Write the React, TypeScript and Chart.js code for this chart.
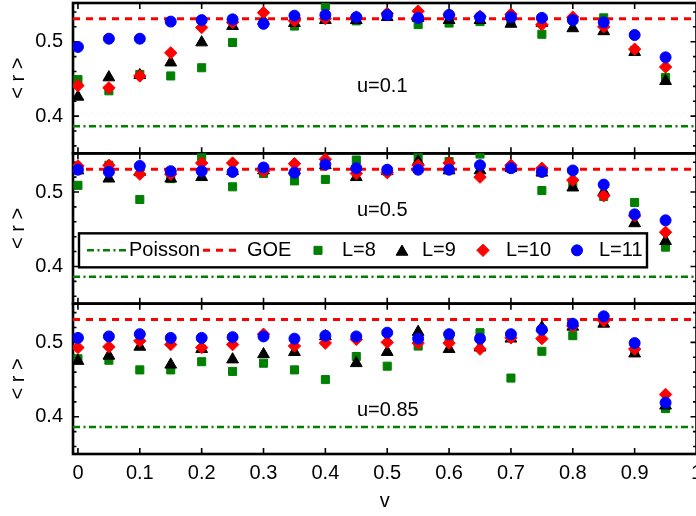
import React, { useEffect, useRef } from 'react';
import { Chart, registerables } from 'chart.js';

Chart.register(...registerables);

// ---------- data ----------
const V = [0, 0.05, 0.1, 0.15, 0.2, 0.25, 0.3, 0.35, 0.4, 0.45, 0.5, 0.55, 0.6, 0.65, 0.7, 0.75, 0.8, 0.85, 0.9, 0.95];

const U01_L8 = [0.449, 0.434, 0.456, 0.454, 0.465, 0.499, 0.525, 0.521, 0.548, 0.528, 0.534, 0.523, 0.525, 0.527, 0.529, 0.510, 0.530, 0.532, 0.488, 0.452];
const U01_L9 = [0.426, 0.452, 0.455, 0.472, 0.499, 0.521, 0.528, 0.525, 0.529, 0.529, 0.533, 0.532, 0.529, 0.529, 0.524, 0.525, 0.518, 0.514, 0.486, 0.447];
const U01_L10 = [0.441, 0.438, 0.454, 0.485, 0.519, 0.526, 0.539, 0.528, 0.531, 0.533, 0.538, 0.541, 0.536, 0.534, 0.537, 0.523, 0.533, 0.520, 0.490, 0.466];
const U01_L11 = [0.493, 0.504, 0.504, 0.527, 0.529, 0.530, 0.524, 0.535, 0.536, 0.533, 0.536, 0.532, 0.536, 0.533, 0.533, 0.532, 0.529, 0.526, 0.509, 0.479];

const U05_L8 = [0.509, 0.536, 0.490, 0.518, 0.548, 0.507, 0.525, 0.515, 0.517, 0.543, 0.528, 0.547, 0.541, 0.551, 0.532, 0.502, 0.511, 0.494, 0.486, 0.426];
const U05_L9 = [0.529, 0.518, 0.527, 0.518, 0.520, 0.528, 0.529, 0.529, 0.536, 0.520, 0.528, 0.541, 0.529, 0.529, 0.532, 0.526, 0.506, 0.500, 0.458, 0.434];
const U05_L10 = [0.535, 0.536, 0.524, 0.524, 0.539, 0.539, 0.528, 0.538, 0.544, 0.525, 0.526, 0.536, 0.539, 0.520, 0.536, 0.532, 0.516, 0.495, 0.468, 0.446];
const U05_L11 = [0.530, 0.527, 0.535, 0.528, 0.528, 0.527, 0.533, 0.526, 0.537, 0.532, 0.530, 0.530, 0.530, 0.536, 0.532, 0.527, 0.529, 0.510, 0.470, 0.462];

const U085_L8 = [0.478, 0.476, 0.463, 0.463, 0.474, 0.461, 0.472, 0.463, 0.450, 0.481, 0.468, 0.495, 0.502, 0.513, 0.452, 0.488, 0.509, 0.530, 0.490, 0.411];
const U085_L9 = [0.475, 0.482, 0.494, 0.470, 0.491, 0.477, 0.484, 0.487, 0.508, 0.472, 0.487, 0.514, 0.491, 0.493, 0.505, 0.520, 0.521, 0.525, 0.485, 0.415];
const U085_L10 = [0.493, 0.494, 0.502, 0.497, 0.493, 0.497, 0.511, 0.495, 0.499, 0.504, 0.500, 0.499, 0.499, 0.491, 0.506, 0.505, 0.522, 0.529, 0.491, 0.430];
const U085_L11 = [0.506, 0.508, 0.511, 0.506, 0.506, 0.507, 0.508, 0.505, 0.509, 0.508, 0.513, 0.505, 0.511, 0.505, 0.511, 0.517, 0.525, 0.535, 0.499, 0.419];

const GOE = 0.5307;
const POISSON = 0.3863;

const SERIES_NAMES = ['L=8', 'L=9', 'L=10', 'L=11'];
const PANEL_LABELS = ['u=0.1', 'u=0.5', 'u=0.85'];
const PANEL_IDS = ['y1', 'y2', 'y3'];
const PANEL_SERIES = [
  [U01_L8, U01_L9, U01_L10, U01_L11],
  [U05_L8, U05_L9, U05_L10, U05_L11],
  [U085_L8, U085_L9, U085_L10, U085_L11],
];

const X_TICKS = [0, 0.1, 0.2, 0.3, 0.4, 0.5, 0.6, 0.7, 0.8, 0.9, 1];
const X_TICK_LABELS = ['0', '0.1', '0.2', '0.3', '0.4', '0.5', '0.6', '0.7', '0.8', '0.9', '1'];
const Y_TICKS = [0.4, 0.5];
const Y_TICK_LABELS = ['0.4', '0.5'];
const Y_MINOR_TICKS = [0.36, 0.38, 0.42, 0.44, 0.46, 0.48, 0.52, 0.54];

const X_MIN = -0.008;
const X_MAX = 1.0;
const Y_MIN = 0.35;
const Y_MAX = 0.552;

// ---------- styles / layout ----------
const FONT = "'Liberation Sans', Arial, Helvetica, sans-serif";
const GREEN = '#007f00';
const RED = '#ff0000';
const BLUE = '#0000ff';
const BLACK = '#000000';

const SERIES_STYLE = [
  { color: GREEN, pointStyle: 'rect', radius: 5.7 },
  { color: BLACK, pointStyle: 'triangle', radius: 6.8 },
  { color: RED, pointStyle: 'rectRot', radius: 6.2 },
  { color: BLUE, pointStyle: 'circle', radius: 5.5 },
];
const POISSON_DASH = [7, 3.5, 2, 3.5];
const GOE_DASH = [7, 6];

const LABEL_POS = [
  { x: 0.451, y: 0.4401 },
  { x: 0.451, y: 0.4756 },
  { x: 0.451, y: 0.4087 },
];

function drawMarker(ctx: CanvasRenderingContext2D, style: string, x: number, y: number, r: number, color: string) {
  ctx.save();
  ctx.fillStyle = color;
  ctx.strokeStyle = color;
  ctx.lineWidth = 1;
  ctx.setLineDash([]);
  ctx.beginPath();
  if (style === 'rect') {
    const s = r * Math.SQRT1_2;
    ctx.rect(x - s, y - s, 2 * s, 2 * s);
  } else if (style === 'triangle') {
    const h = r * Math.sin(Math.PI / 3);
    ctx.moveTo(x, y - r);
    ctx.lineTo(x + h, y + r / 2);
    ctx.lineTo(x - h, y + r / 2);
    ctx.closePath();
  } else if (style === 'rectRot') {
    ctx.moveTo(x - r, y);
    ctx.lineTo(x, y - r);
    ctx.lineTo(x + r, y);
    ctx.lineTo(x, y + r);
    ctx.closePath();
  } else {
    ctx.arc(x, y, r, 0, Math.PI * 2);
  }
  ctx.fill();
  ctx.stroke();
  ctx.restore();
}

const framePlugin = {
  id: 'panelFrames',
  beforeDatasetsDraw(chart: any) {
    const ctx: CanvasRenderingContext2D = chart.ctx;
    const area = chart.chartArea;
    const xs = chart.scales.x;
    ctx.save();
    ctx.strokeStyle = BLACK;
    ctx.setLineDash([]);
    for (const id of PANEL_IDS) {
      const ys = chart.scales[id];
      const top = ys.top;
      const bottom = ys.bottom;
      ctx.lineWidth = 1.6;
      ctx.beginPath();
      for (const t of X_TICKS) {
        if (t >= X_MAX) continue;
        const px = xs.getPixelForValue(t);
        ctx.moveTo(px, top);
        ctx.lineTo(px, top + 6);
        ctx.moveTo(px, bottom);
        ctx.lineTo(px, bottom - 6);
      }
      for (const t of Y_TICKS) {
        const py = ys.getPixelForValue(t);
        ctx.moveTo(area.left, py);
        ctx.lineTo(area.left + 6, py);
        ctx.moveTo(area.right, py);
        ctx.lineTo(area.right - 6, py);
      }
      for (const t of Y_MINOR_TICKS) {
        const py = ys.getPixelForValue(t);
        ctx.moveTo(area.left, py);
        ctx.lineTo(area.left + 3.5, py);
        ctx.moveTo(area.right, py);
        ctx.lineTo(area.right - 3.5, py);
      }
      ctx.stroke();
      ctx.lineWidth = 2.6;
      ctx.strokeRect(area.left, top, area.right - area.left, bottom - top);
    }
    ctx.restore();
  },
  afterDatasetsDraw(chart: any) {
    const ctx: CanvasRenderingContext2D = chart.ctx;
    const area = chart.chartArea;
    const xs = chart.scales.x;
    ctx.save();
    // panel labels
    ctx.font = `20px ${FONT}`;
    ctx.fillStyle = BLACK;
    ctx.textAlign = 'left';
    ctx.textBaseline = 'middle';
    PANEL_IDS.forEach((id, i) => {
      const ys = chart.scales[id];
      ctx.fillText(PANEL_LABELS[i], xs.getPixelForValue(LABEL_POS[i].x), ys.getPixelForValue(LABEL_POS[i].y));
    });

    // legend in middle panel
    const y2 = chart.scales.y2;
    const lx = area.left + 6;
    const ly = y2.top + 80;
    const lw = 568;
    const lh = 34;
    const cy = ly + lh / 2;
    ctx.fillStyle = '#ffffff';
    ctx.fillRect(lx, ly, lw, lh);
    ctx.strokeStyle = BLACK;
    ctx.lineWidth = 2.4;
    ctx.strokeRect(lx, ly, lw, lh);

    // Poisson sample
    ctx.lineWidth = 2.5;
    ctx.strokeStyle = GREEN;
    ctx.setLineDash(POISSON_DASH);
    ctx.beginPath();
    ctx.moveTo(lx + 8, cy);
    ctx.lineTo(lx + 47, cy);
    ctx.stroke();
    // GOE sample
    ctx.lineWidth = 3;
    ctx.strokeStyle = RED;
    ctx.setLineDash(GOE_DASH);
    ctx.beginPath();
    ctx.moveTo(lx + 124, cy);
    ctx.lineTo(lx + 163, cy);
    ctx.stroke();
    ctx.setLineDash([]);

    ctx.fillStyle = BLACK;
    ctx.font = `20px ${FONT}`;
    ctx.textAlign = 'left';
    ctx.textBaseline = 'middle';
    ctx.fillText('Poisson', lx + 50, cy);
    ctx.fillText('GOE', lx + 168, cy);

    const markerX = [239, 323, 404, 498];
    const textX = [263, 343, 427, 520];
    SERIES_NAMES.forEach((name, i) => {
      const st = SERIES_STYLE[i];
      const my = st.pointStyle === 'triangle' ? cy + 1.5 : cy;
      drawMarker(ctx, st.pointStyle, lx + markerX[i], my, st.radius, st.color);
      ctx.fillStyle = BLACK;
      ctx.fillText(name, lx + textX[i], cy);
    });
    ctx.restore();
  },
};

function buildDatasets() {
  const datasets: any[] = [];
  PANEL_IDS.forEach((id, p) => {
    datasets.push({
      label: 'Poisson',
      data: [{ x: X_MIN, y: POISSON }, { x: X_MAX, y: POISSON }],
      yAxisID: id,
      xAxisID: 'x',
      showLine: true,
      borderColor: GREEN,
      borderWidth: 2.5,
      borderDash: POISSON_DASH,
      pointRadius: 0,
      order: 10,
    });
    datasets.push({
      label: 'GOE',
      data: [{ x: X_MIN, y: GOE }, { x: X_MAX, y: GOE }],
      yAxisID: id,
      xAxisID: 'x',
      showLine: true,
      borderColor: RED,
      borderWidth: 3,
      borderDash: GOE_DASH,
      pointRadius: 0,
      order: 9,
    });
    PANEL_SERIES[p].forEach((vals, i) => {
      const st = SERIES_STYLE[i];
      datasets.push({
        label: SERIES_NAMES[i],
        data: V.map((v, k) => ({ x: v, y: vals[k] })),
        yAxisID: id,
        xAxisID: 'x',
        showLine: false,
        pointStyle: st.pointStyle,
        pointRadius: st.radius,
        pointHoverRadius: st.radius,
        backgroundColor: st.color,
        borderColor: st.color,
        borderWidth: 1,
        order: 3 - i,
      });
    });
  });
  return datasets;
}

function yScale(weight: number) {
  return {
    type: 'linear',
    position: 'left',
    stack: 'panels',
    stackWeight: 1,
    weight,
    min: Y_MIN,
    max: Y_MAX,
    grid: { display: false, drawTicks: false },
    border: { display: false },
    afterBuildTicks: (s: any) => {
      s.ticks = Y_TICKS.map((v) => ({ value: v }));
    },
    afterFit: (s: any) => {
      s.width = 73;
      s.paddingTop = 0;
      s.paddingBottom = 0;
    },
    ticks: {
      font: { family: FONT, size: 20 },
      color: BLACK,
      padding: 10,
      callback: (_v: any, i: number) => Y_TICK_LABELS[i],
    },
    title: {
      display: true,
      text: '< r >',
      font: { family: FONT, size: 20 },
      color: BLACK,
      padding: { top: 6.5, bottom: 0 },
    },
  };
}

export default function App() {
  const ref = useRef<HTMLCanvasElement>(null);
  useEffect(() => {
    if (!ref.current) return;
    const chart = new Chart(ref.current, {
      type: 'scatter',
      data: { datasets: buildDatasets() },
      options: {
        animation: false,
        responsive: true,
        maintainAspectRatio: false,
        events: [],
        layout: { autoPadding: false, padding: { top: 3, right: 1.5, bottom: 0, left: 0 } },
        plugins: {
          legend: { display: false },
          tooltip: { enabled: false },
        },
        scales: {
          x: {
            type: 'linear',
            position: 'bottom',
            min: X_MIN,
            max: X_MAX,
            grid: { display: false, drawTicks: false },
            border: { display: false },
            afterBuildTicks: (s: any) => {
              s.ticks = X_TICKS.map((v) => ({ value: v }));
            },
            afterFit: (s: any) => {
              s.height = 62;
              s.paddingLeft = 0;
              s.paddingRight = 0;
            },
            ticks: {
              autoSkip: false,
              maxRotation: 0,
              minRotation: 0,
              padding: 7,
              font: { family: FONT, size: 20 },
              color: BLACK,
              callback: (_v: any, i: number) => X_TICK_LABELS[i],
            },
            title: {
              display: true,
              text: 'v',
              font: { family: FONT, size: 20 },
              color: BLACK,
              padding: { top: 0, bottom: 2.5 },
            },
          },
          y1: yScale(3),
          y2: yScale(2),
          y3: yScale(1),
        } as any,
      },
      plugins: [framePlugin],
    } as any);
    return () => chart.destroy();
  }, []);

  return (
    <div style={{ position: 'fixed', left: 0, top: 0, width: 696, height: 516, overflow: 'hidden', background: '#ffffff' }}>
      <div style={{ position: 'relative', width: 698, height: 516 }}>
        <canvas ref={ref} />
      </div>
    </div>
  );
}
